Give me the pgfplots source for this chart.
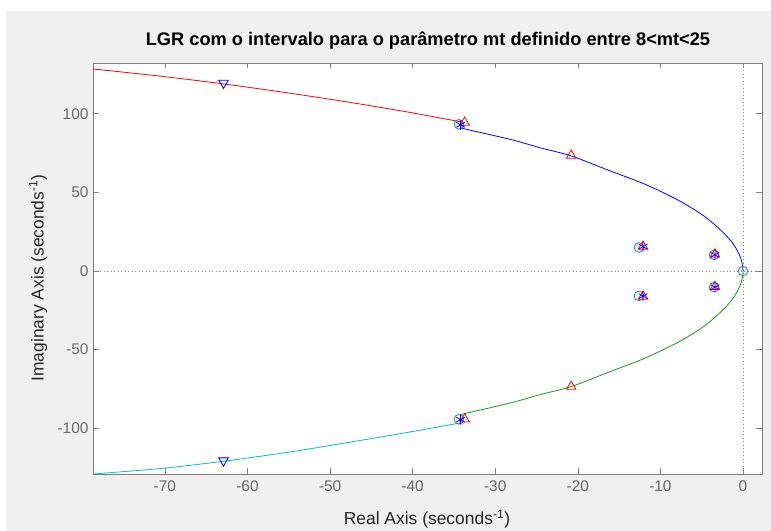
\documentclass[border=0pt]{standalone}
\usepackage{pgfplots}
\pgfplotsset{compat=1.18}
\usepackage{fontspec}
\setmainfont{Liberation Sans}
\definecolor{figgray}{RGB}{240,240,240}
\definecolor{axgray}{RGB}{128,128,128}
\definecolor{tickgray}{RGB}{105,105,105}
\definecolor{labgray}{RGB}{38,38,38}
\definecolor{mgreen}{RGB}{30,150,30}
\definecolor{mcyan}{RGB}{0,191,191}
\definecolor{mblue}{RGB}{40,120,200}
\begin{document}
\begin{tikzpicture}
\useasboundingbox (0,0) rectangle (771bp,531bp);
\fill[white] (0,0) rectangle (771bp,531bp);
\fill[figgray] (6bp,0) rectangle (771bp,520bp);
\begin{axis}[at={(93bp,57bp)}, anchor=south west, scale only axis,
  width=669bp, height=411bp,
  xmin=-78.7, xmax=2.3, ymin=-129.1, ymax=132.3,
  axis background/.style={fill=white},
  axis line style={axgray, line width=0.6bp},
  tick style={axgray, line width=0.6bp},
  major tick length=5.5bp, tick align=inside,
  xtick={-70,-60,...,0}, ytick={-100,-50,0,50,100},
  /pgf/number format/assume math mode=true,
  ticklabel style={font=\fontsize{15.5}{18}\selectfont, text=tickgray},
  xticklabel style={yshift=-3bp},
  yticklabel style={xshift=-1bp}]
% zero lines
\addplot[axgray, line width=0.7bp, dash pattern=on 1bp off 2.5bp] coordinates {(-78.7,0) (2.3,0)};
\addplot[axgray, line width=0.7bp, dash pattern=on 1bp off 2.5bp] coordinates {(0,-129.1) (0,132.3)};
% branches
\addplot[red, line width=0.8bp, smooth] coordinates {
(-78.7,128.5) (-70.5,123.9) (-62.9,119.0) (-55,113.2) (-48,107.6) (-41,101.5) (-33.9,94.6)};
\addplot[blue, line width=0.8bp, smooth] coordinates {
(-34.2,91.0) (-32.8,89.3) (-28,83.5) (-24.5,78.3) (-20.8,73.2) (-16,63.5) (-12,55.5) (-8,45.5) (-5,36) (-3,27.5) (-1.6,20) (-0.8,14) (-0.25,8) (-0.05,3) (0,0)};
\addplot[mgreen, line width=0.8bp, smooth] coordinates {
(-34.2,-91.3) (-32.8,-89.6) (-28,-83.7) (-24.5,-78.5) (-20.8,-73.5) (-16,-63.8) (-12,-55.7) (-8,-45.7) (-5,-36.2) (-3,-27.6) (-1.6,-20) (-0.8,-14) (-0.25,-8) (-0.05,-3) (0,0)};
\addplot[mcyan, line width=0.8bp, smooth] coordinates {
(-34.2,-96.6) (-41,-103) (-48,-109.2) (-55,-115.2) (-62.9,-121.0) (-70.5,-125.6) (-78.7,-129.1)};
% circles
\addplot[only marks, mark=o, mark size=4.8bp, mblue, mark options={line width=0.8bp}] coordinates {
(0,0) (-12.6,15.0) (-12.6,-15.8) (-3.5,10.3) (-3.5,-10.3) (-34.4,93.3) (-34.4,-94.3)};
% red up triangles
\addplot[only marks, mark=triangle, mark size=5.5bp, red, mark options={line width=0.8bp, fill=none}] coordinates {
(-33.7,94.5) (-20.8,73.5) (-20.8,-73.5) (-33.7,-94.3) (-12.1,15.6) (-12.1,-16.2) (-3.4,10.6) (-3.4,-10.0)};
% blue stars
\addplot[only marks, mark=asterisk, mark size=5bp, blue, mark options={line width=0.8bp}] coordinates {
(-34.2,93.0) (-34.2,-94.5) (-12.1,15.5) (-12.1,-16.0) (-3.4,10.3) (-3.4,-10.3)};
% blue down triangles
\addplot[only marks, mark=triangle, mark size=5.5bp, blue, mark options={rotate=180, line width=0.8bp, fill=none}] coordinates {
(-62.9,119.6) (-62.9,-120.6)};
\end{axis}
\node[font=\bfseries\fontsize{18.3}{21}\selectfont, text=black] at (428bp,490bp)
  {LGR com o intervalo para o parâmetro mt definido entre 8<mt<25};
\node[font=\fontsize{17.5}{20}\selectfont, text=labgray] at (427bp,12bp)
  {Real Axis (seconds\textsuperscript{-1})};
\node[font=\fontsize{17.5}{20}\selectfont, text=labgray, rotate=90] at (38bp,253bp)
  {Imaginary Axis (seconds\textsuperscript{-1})};
\end{tikzpicture}
\end{document}
